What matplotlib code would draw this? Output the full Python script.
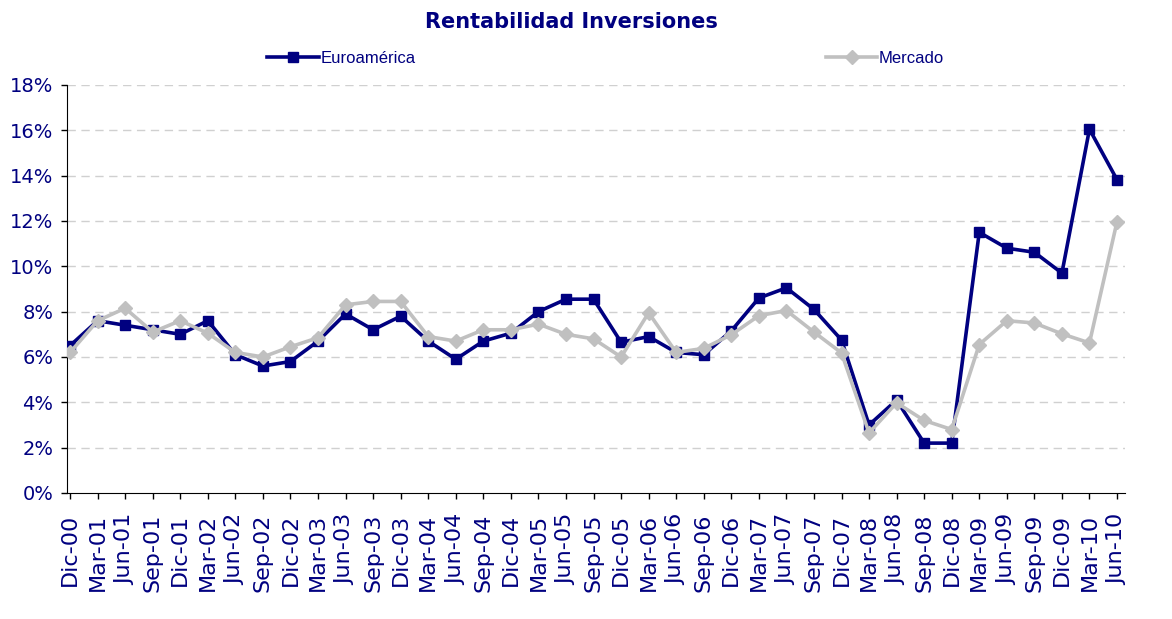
import matplotlib
matplotlib.use("Agg")
import matplotlib.pyplot as plt

# quarter labels (Dic-00 .. Jun-10)
quarters = ['Dic-00', 'Mar-01', 'Jun-01', 'Sep-01', 'Dic-01', 'Mar-02', 'Jun-02', 'Sep-02',
            'Dic-02', 'Mar-03', 'Jun-03', 'Sep-03', 'Dic-03', 'Mar-04', 'Jun-04', 'Sep-04',
            'Dic-04', 'Mar-05', 'Jun-05', 'Sep-05', 'Dic-05', 'Mar-06', 'Jun-06', 'Sep-06',
            'Dic-06', 'Mar-07', 'Jun-07', 'Sep-07', 'Dic-07', 'Mar-08', 'Jun-08', 'Sep-08',
            'Dic-08', 'Mar-09', 'Jun-09', 'Sep-09', 'Dic-09', 'Mar-10', 'Jun-10']

# rentabilidad (%)
euroamerica = [6.5, 7.6, 7.4, 7.2, 7.0, 7.6, 6.1, 5.6, 5.8, 6.7, 7.9, 7.2, 7.8, 6.7, 5.9, 6.7,
               7.05, 8.0, 8.55, 8.55, 6.65, 6.9, 6.2, 6.1, 7.15, 8.6, 9.05, 8.1, 6.75, 3.0, 4.1,
               2.2, 2.2, 11.5, 10.8, 10.62, 9.7, 16.05, 13.82]
mercado = [6.2, 7.6, 8.15, 7.1, 7.6, 7.05, 6.2, 6.0, 6.45, 6.85, 8.3, 8.45, 8.45, 6.9, 6.7, 7.2,
           7.2, 7.45, 7.0, 6.8, 6.0, 7.95, 6.2, 6.38, 6.98, 7.82, 8.05, 7.1, 6.18, 2.65, 3.98,
           3.2, 2.8, 6.55, 7.6, 7.5, 7.02, 6.62, 11.97]

navy = '#000080'
grey = '#c0c0c0'

fig = plt.figure(figsize=(11.72, 6.19), dpi=100)
ax = fig.add_axes([0.0572, 0.2036, 0.9027, 0.6591])

x = list(range(len(quarters)))
ax.plot(x, euroamerica, color=navy, lw=2.6, marker='s', ms=7.5, mfc=navy, mec=navy,
        label='Euroamérica', zorder=3)
ax.plot(x, mercado, color=grey, lw=2.6, marker='D', ms=6.8, mfc=grey, mec=grey,
        label='Mercado', zorder=4)

ax.set_xlim(-0.11, 38.29)
ax.set_ylim(0, 18)
ax.set_yticks(range(0, 19, 2))
ax.set_yticklabels([f'{v}%' for v in range(0, 19, 2)], fontsize=14, color=navy,
                   family='DejaVu Sans')
ax.set_xticks(x)
ax.set_xticklabels(quarters, rotation=90, fontsize=16, color=navy, family='DejaVu Sans')
ax.tick_params(axis='both', direction='out', length=4, width=1, colors='black')
ax.tick_params(axis='x', labelcolor=navy, pad=11)
ax.tick_params(axis='y', labelcolor=navy, pad=6)

for v in range(2, 19, 2):
    ax.axhline(v, color='#d0d0d0', lw=1, ls=(0, (6, 4)), zorder=1)

for s in ['top', 'right']:
    ax.spines[s].set_visible(False)
ax.spines['left'].set_color('black')
ax.spines['bottom'].set_color('black')

fig.text(0.488, 0.965, 'Rentabilidad Inversiones', ha='center', va='center',
         fontsize=15, fontweight='bold', color=navy, family='DejaVu Sans')

leg = fig.legend(loc='center left', bbox_to_anchor=(0.228, 0.906), ncol=2, frameon=False,
                 prop={'family': 'Liberation Sans', 'size': 12}, handlelength=3.1,
                 handletextpad=0.1, columnspacing=24.6, borderaxespad=0, borderpad=0)
for t in leg.get_texts():
    t.set_color(navy)

fig.savefig('out.png', dpi=100)
